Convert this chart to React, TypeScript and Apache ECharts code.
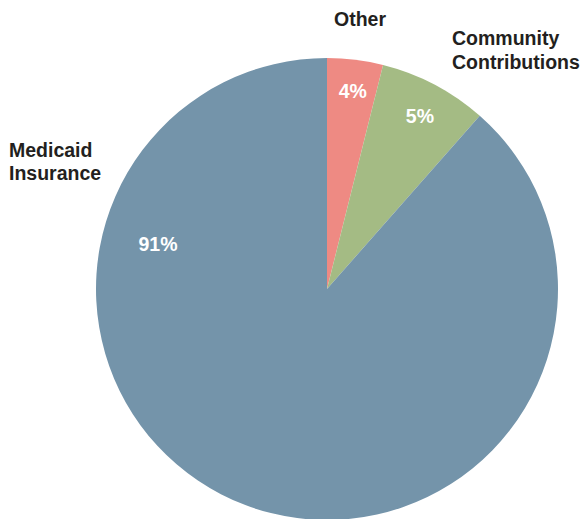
import React, { useEffect, useRef } from "react";
import * as echarts from "echarts";

const categories = ["Other", "Community Contributions", "Medicaid Insurance"];
// slice sizes
const values = [3.9, 7.6, 88.5];
// percentages as printed on the chart
const percentLabels = ["4%", "5%", "91%"];
const colors = ["#ee8a83", "#a4bb84", "#7494aa"];

const CX = 327;
const CY = 289;
const R = 231;
// label placement (angle clockwise from 12 o'clock, distance from centre)
const labelAngles = [7.4, 28.3, 285];
const labelRadii = [200, 196, 175];

export default function App() {
  const ref = useRef<HTMLDivElement>(null);
  useEffect(() => {
    if (!ref.current) return;
    const chart = echarts.init(ref.current, null, { renderer: "svg" });
    const font = "'Liberation Sans', Arial, Helvetica, sans-serif";
    chart.setOption({
      animation: false,
      backgroundColor: "#ffffff",
      series: [
        {
          type: "pie",
          center: [CX, CY],
          radius: [0, R],
          startAngle: 90,
          clockwise: true,
          silent: true,
          itemStyle: { borderWidth: 0 },
          label: {
            show: true,
            position: "inside",
            color: "#ffffff",
            fontFamily: font,
            fontWeight: "bold",
            fontSize: 19.5,
            formatter: (p: any) => percentLabels[p.dataIndex],
          },
          labelLine: { show: false },
          labelLayout: (p: any) => {
            const a = (labelAngles[p.dataIndex] * Math.PI) / 180;
            const r = labelRadii[p.dataIndex];
            return {
              x: CX + r * Math.sin(a),
              y: CY - r * Math.cos(a),
              align: "center",
              verticalAlign: "middle",
            };
          },
          data: categories.map((name, i) => ({
            name,
            value: values[i],
            itemStyle: { color: colors[i] },
          })),
        },
      ],
      graphic: [
        {
          type: "text",
          left: 334,
          top: 9,
          style: {
            text: "Other",
            fill: "#231f20",
            font: `bold 19.5px ${font}`,
          },
        },
        {
          type: "text",
          left: 452,
          top: 26,
          style: {
            text: "Community\nContributions",
            fill: "#231f20",
            font: `bold 19.5px ${font}`,
            lineHeight: 24,
          },
        },
        {
          type: "text",
          left: 9,
          top: 138,
          style: {
            text: "Medicaid\nInsurance",
            fill: "#231f20",
            font: `bold 19.5px ${font}`,
            lineHeight: 23,
          },
        },
      ],
    });
    return () => chart.dispose();
  }, []);
  return (
    <div
      ref={ref}
      style={{ position: "fixed", left: 0, top: 0, width: 582, height: 519 }}
    />
  );
}
